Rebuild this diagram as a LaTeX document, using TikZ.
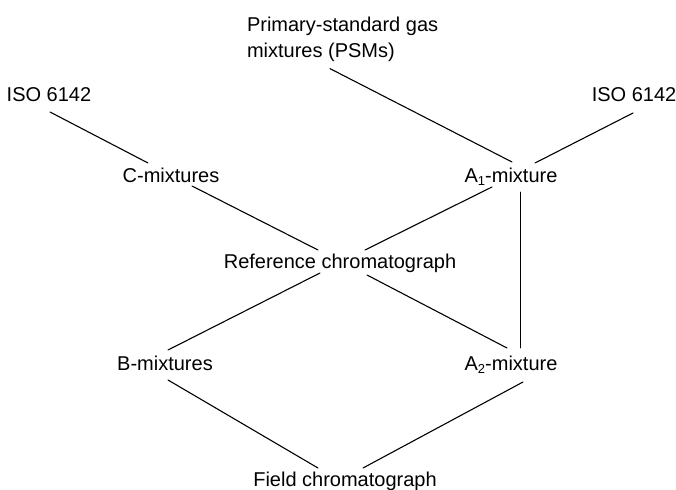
\documentclass[tikz,border=0pt]{standalone}
\usepackage{fontspec}
\setmainfont{Liberation Sans}
\usetikzlibrary{calc}
\newcommand{\subone}[1]{\raisebox{-0.35ex}{\fontsize{13}{13}\selectfont #1}}
\tikzset{
  lbl/.style={inner sep=0pt, outer sep=0pt, font=\fontsize{20}{26}\selectfont, text height=14.5pt, text depth=4pt},
  link/.style={line width=1.1pt, line cap=round}
}
\begin{document}
\begin{tikzpicture}[x=1pt,y=-1pt]
\useasboundingbox (0,0) rectangle (676,489);
\node[lbl, anchor=north west, align=left, text height=, text depth=] (psm) at (247,17) {Primary-standard gas\\mixtures (PSMs)};
\node[lbl, anchor=base] (isoL) at (49,102) {ISO 6142};
\node[lbl, anchor=base] (isoR) at (634,102) {ISO 6142};
\node[lbl, anchor=base] (cmix) at (171,182) {C-mixtures};
\node[lbl, anchor=base] (aone) at (511,182) {A\subone{1}-mixture};
\node[lbl, anchor=base] (ref) at (340,268) {Reference chromatograph};
\node[lbl, anchor=base] (bmix) at (165,370) {B-mixtures};
\node[lbl, anchor=base] (atwo) at (511,370) {A\subone{2}-mixture};
\node[lbl, anchor=base] (field) at (345,486) {Field chromatograph};

\draw[link] ($(isoL.base)+(1,10)$) -- ($(cmix.base)+(-23,-19)$);
\draw[link] ($(psm.south west)+(83,7)$) -- ($(aone.base)+(1,-20)$);
\draw[link] ($(isoR.base)+(-1,11)$) -- ($(aone.base)+(24,-19)$);
\draw[link] ($(cmix.base)+(21,4)$) -- ($(ref.base)+(-22,-18)$);
\draw[link] ($(aone.base)+(-19,5)$) -- ($(ref.base)+(25,-18)$);
\draw[link, line width=0.8pt] ($(aone.base)+(9.3,10)$) -- ($(atwo.base)+(9.3,-22)$);
\draw[link] ($(ref.base)+(-20,5)$) -- ($(bmix.base)+(3,-20)$);
\draw[link] ($(ref.base)+(27,7)$) -- ($(atwo.base)+(-4,-22)$);
\draw[link] ($(bmix.base)+(3,10)$) -- ($(field.base)+(-27,-18)$);
\draw[link] ($(atwo.base)+(12,12)$) -- ($(field.base)+(18,-18)$);
\end{tikzpicture}
\end{document}
